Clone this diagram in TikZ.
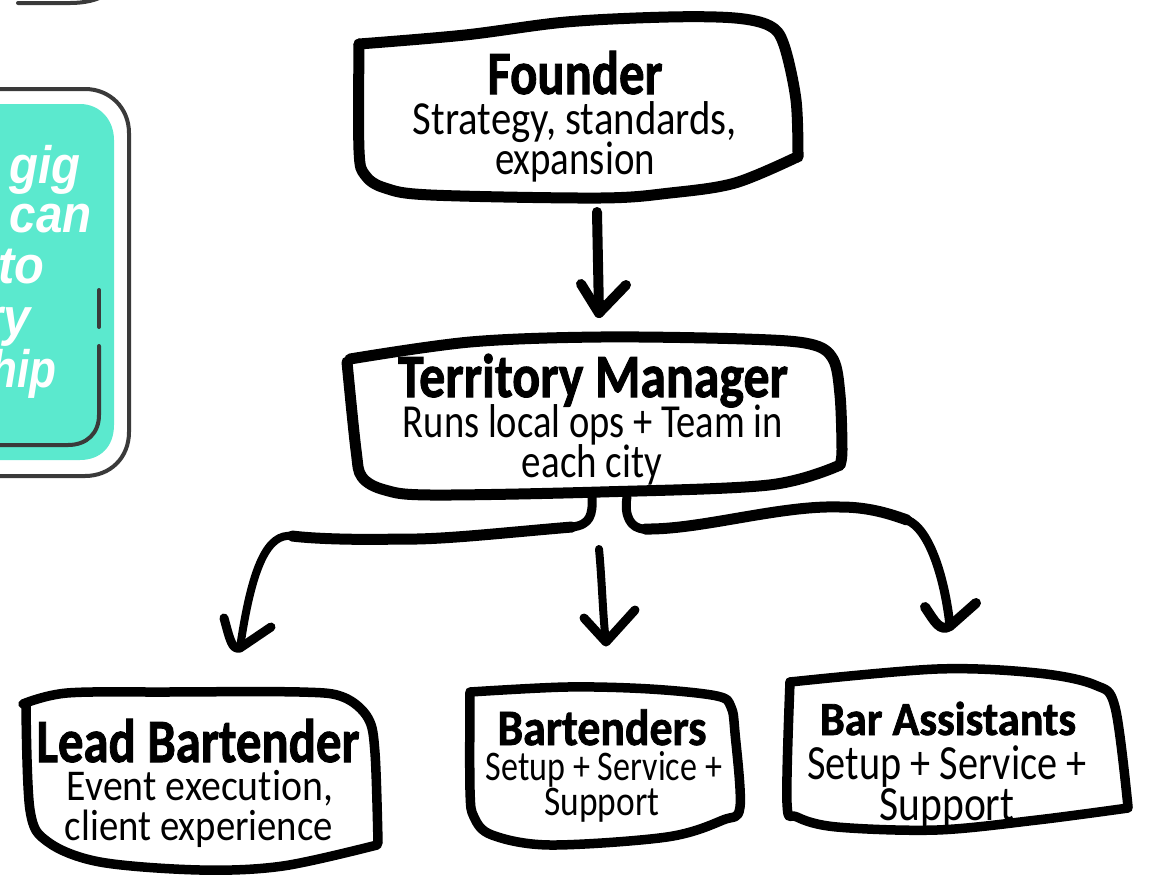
\documentclass[tikz,border=0pt]{standalone}
\usepackage{fontspec}
\usepackage{graphicx}
\setmainfont{Carlito}[Ligatures=NoCommon,BoldFeatures={FakeBold=1.6}]
\newfontfamily\cardfont{Liberation Sans}
\newlength\pxu
\setlength\pxu{0.02cm}
\newcommand{\fitline}[3]{\resizebox{#1\pxu}{\height}{\fontsize{#2}{#2}\selectfont #3}}
\definecolor{teal}{HTML}{5BE9CE}
\definecolor{edge}{HTML}{3A3A3A}
\tikzset{
  frame/.style={draw=black,line width=11\pxu,line cap=round,line join=round},
  thinframe/.style={draw=black,line width=9.5\pxu,line cap=round,line join=round},
  wire/.style={draw=black,line width=8\pxu,line cap=round,line join=round},
  widewire/.style={draw=black,line width=11\pxu,line cap=round,line join=round},
  linetext/.style={inner sep=0pt,anchor=base,text=black,yshift=-2\pxu},
  cardtext/.style={inner sep=0pt,anchor=base east,text=white},
  cardedge/.style={draw=edge,line width=4\pxu,line cap=round}
}
\newcommand{\cardline}[2]{\resizebox{#1\pxu}{\height}{\cardfont\bfseries\itshape\fontsize{30}{30}\selectfont #2}}
\begin{document}
\begin{tikzpicture}[x=0.02cm,y=-0.02cm]
\useasboundingbox (0,0) rectangle (1154,877);
% left card (cut off by the page)
\draw[cardedge] (18,3) -- (70,3) .. controls (85,3) and (97,0) .. (105,-5);
\draw[cardedge] (-10,89) -- (85,89) .. controls (110,89) and (129,108) .. (129,133) -- (129,432) .. controls (129,458) and (110,476) .. (85,476) -- (-10,476);
\fill[teal] (-10,104) -- (80,104) .. controls (100,104) and (114,120) .. (114,140) -- (114,425) .. controls (114,447) and (100,460) .. (80,460) -- (-10,460) -- cycle;
\draw[cardedge] (99,346) -- (99,415) .. controls (99,433) and (87,445) .. (68,445) -- (-10,445);
\draw[cardedge] (99,290) -- (99,327);
\node[cardtext] (cardA) at (81,183) {\cardline{71}{gig}};
\node[cardtext] (cardB) at (92,232) {\cardline{82}{can}};
\node[cardtext] (cardC) at (45,283) {\cardline{46}{to}};
\node[cardtext] (cardD) at (31,335) {\cardline{46}{ry}};
\node[cardtext] (cardE) at (57,387) {\cardline{66}{hip}};
% Founder
\draw[frame] plot[smooth,tension=.55] coordinates {(359,44) (465,35) (566,22) (668,17) (735,18) (770,26) (784,45) (796,100) (798,157)};
\draw[frame] plot[smooth,tension=.55] coordinates {(797,157) (735,183) (670,193) (600,198) (431,195) (385,188) (365,175) (359,150) (359,44)};
% Territory Manager
\draw[frame] plot[smooth,tension=.55] coordinates {(350,359) (470,342) (600,337) (745,339) (810,344) (833,359) (840,395) (842,450) (840,465)};
\draw[frame] plot[smooth,tension=.55] coordinates {(840,465) (769,485) (600,492) (431,495) (385,490) (362,477) (356,450) (347,362)};
% Lead Bartender
\draw[thinframe] plot[smooth,tension=.55] coordinates {(23,704) (67,693) (167,692) (300,692) (343,697) (368,718) (375,753) (378,843)};
\draw[thinframe] plot[smooth,tension=.55] coordinates {(377,845) (283,866) (200,870) (100,862) (48,842) (30,810) (26,705)};
% Bartenders
\draw[thinframe] plot[smooth,tension=.55] coordinates {(470,692) (567,687) (650,689) (717,696) (731,707) (735,733) (740,807) (723,820) (667,837) (550,845) (492,835) (474,817) (470,790) (470,692)};
% Bar Assistants
\draw[thinframe] plot[smooth,tension=.55] coordinates {(790,682) (937,669) (1037,673) (1095,685) (1115,707) (1128,807)};
\draw[thinframe] plot[smooth,tension=.55] coordinates {(1128,808) (1037,820) (937,830) (837,827) (797,817) (787,803) (790,682)};
% connectors
\coordinate (a1s) at (597,212);
\coordinate (a1t) at (599,313);
\coordinate (a2s) at (592,497);
\coordinate (a2m) at (292,536);
\coordinate (a2t) at (240,648);
\coordinate (a3s) at (599,549);
\coordinate (a3t) at (606,642);
\coordinate (a4s) at (627,497);
\coordinate (a4m) at (907,520);
\coordinate (a4t) at (950,626);
\draw[wire,line width=10\pxu] (a1s) -- (a1t);
\draw[wire,line width=10\pxu] (581,284) -- (a1t) -- (626,285);
\draw[widewire,line width=9\pxu] (a2s) .. controls (593,515) and (590,525) .. (572,527);
\draw[widewire] (572,527) .. controls (500,533) and (440,540) .. (400,539) .. controls (360,540) and (316,539) .. (a2m);
\draw[wire] (a2m) .. controls (268,533) and (252,565) .. (a2t);
\draw[widewire,line width=9\pxu] (224,618) .. controls (230,640) and (232,650) .. (a2t) -- (271,627);
\draw[wire] (a3s) .. controls (602,580) and (603,620) .. (a3t);
\draw[wire,line width=9\pxu] (584,618) -- (a3t) -- (635,610);
\draw[widewire,line width=9\pxu] (a4s) .. controls (624,515) and (630,529) .. (645,529);
\draw[widewire] (645,529) .. controls (700,530) and (780,505) .. (840,507) .. controls (865,507) and (885,512) .. (a4m);
\draw[wire,line width=9\pxu] (a4m) .. controls (930,529) and (945,580) .. (a4t);
\draw[widewire,line width=10\pxu] (925,607) .. controls (935,622) and (940,632) .. (a4t) -- (976,603);
% texts
\node[linetext] (founderT) at (575,92) {\fitline{175}{35}{\bfseries Founder}};
\node[linetext] (founderA) at (575,132) {\fitline{324}{27}{Strategy, standards,}};
\node[linetext] (founderB) at (575,172) {\fitline{160}{27}{expansion}};
\node[linetext] (terrT) at (593,395) {\fitline{390}{35}{\bfseries Territory Manager}};
\node[linetext] (terrA) at (593,435) {\fitline{380}{27}{Runs local ops + Team in}};
\node[linetext] (terrB) at (592,475) {\fitline{140}{27}{each city}};
\node[linetext] (leadT) at (198,760) {\fitline{323}{35}{\bfseries Lead Bartender}};
\node[linetext] (leadA) at (200,798) {\fitline{266}{25}{Event execution,}};
\node[linetext] (leadB) at (199,838) {\fitline{268}{25}{client experience}};
\node[linetext] (bartT) at (602,743) {\fitline{209}{29}{\bfseries Bartenders}};
\node[linetext] (bartA) at (604,778) {\fitline{236}{24}{Setup + Service +}};
\node[linetext] (bartB) at (602,813) {\fitline{115}{24}{Support}};
\node[linetext] (asstT) at (948,733) {\fitline{256}{27}{\bfseries Bar Assistants}};
\node[linetext] (asstA) at (947,777) {\fitline{279}{28}{Setup + Service +}};
\node[linetext] (asstB) at (947,818) {\fitline{135}{28}{Support}};
\end{tikzpicture}
\end{document}
